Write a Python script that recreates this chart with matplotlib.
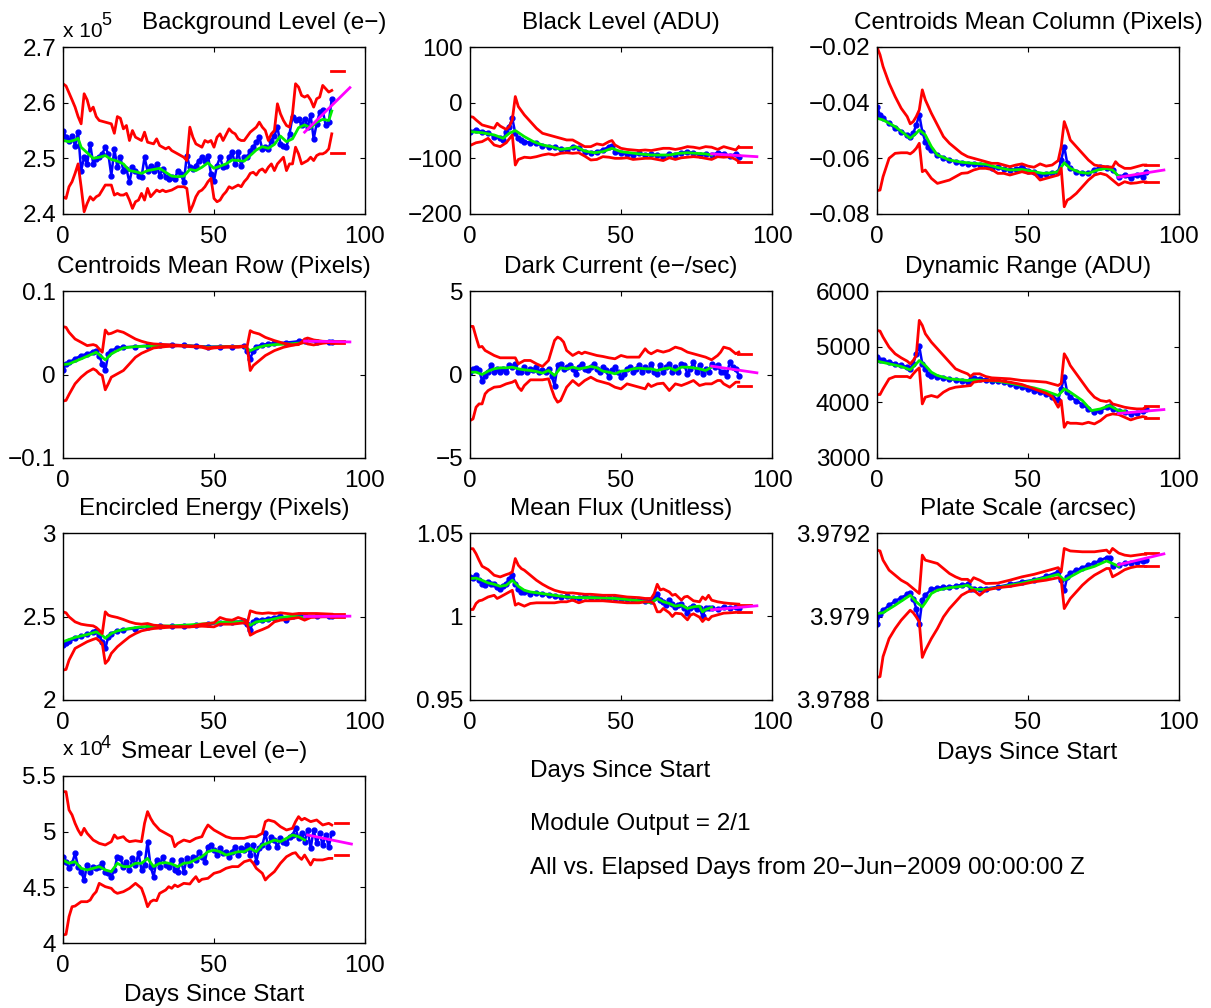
import matplotlib
matplotlib.use('Agg')
import matplotlib.pyplot as plt
from matplotlib.transforms import offset_copy

plt.rcParams['font.family'] = ['Liberation Sans', 'DejaVu Sans']

# ---------------------------------------------------------------- data
# Background Level (units of 1e5 e-)
bg_blue = [2.550,2.538,2.532,2.540,2.523,2.547,2.478,2.502,2.490,2.526,2.490,2.499,2.502,2.508,2.520,2.508,2.469,2.517,2.484,2.502,
           2.478,2.481,2.457,2.484,2.478,2.469,2.466,2.502,2.478,2.487,2.478,2.490,2.469,2.481,2.466,2.463,2.466,2.463,2.478,2.472,
           2.457,2.505,2.484,2.481,2.487,2.496,2.502,2.496,2.505,2.472,2.460,2.487,2.502,2.484,2.487,2.502,2.511,2.490,2.511,2.487,
           2.502,2.502,2.514,2.520,2.529,2.538,2.517,2.520,2.517,2.532,2.541,2.556,2.526,2.523,2.520,2.544,2.574,2.568,2.571,2.559,
           2.571,2.556,2.577,2.535,2.562,2.583,2.586,2.559,2.565,2.607]
bg_green = [(0,2.532),(2,2.530),(4,2.533),(5,2.536),(6,2.520),(8,2.510),(10,2.500),(12,2.502),(14,2.505),(16,2.498),(18,2.495),
            (20,2.490),(22,2.478),(24,2.476),(26,2.473),(28,2.478),(30,2.480),(32,2.482),(34,2.475),(36,2.468),(38,2.467),(40,2.468),
            (42,2.480),(44,2.478),(46,2.484),(48,2.492),(50,2.482),(52,2.486),(54,2.490),(56,2.497),(58,2.496),(60,2.495),(62,2.505),
            (64,2.515),(66,2.521),(68,2.518),(70,2.525),(72,2.540),(74,2.530),(76,2.535),(78,2.555),(80,2.560),(82,2.555),(84,2.565),
            (86,2.570),(88,2.568),(89,2.585)]
bg_upper = [(0,2.634),(1,2.630),(3,2.605),(4,2.592),(5,2.575),(6,2.562),(7,2.616),(8,2.605),(9,2.585),(10,2.592),(11,2.575),(12,2.568),
            (14,2.565),(16,2.562),(17,2.545),(18,2.575),(19,2.572),(20,2.553),(21,2.559),(22,2.532),(23,2.550),(24,2.538),(26,2.532),
            (27,2.547),(28,2.529),(30,2.526),(31,2.535),(32,2.523),(34,2.517),(35,2.520),(36,2.514),(38,2.508),(39,2.505),(40,2.502),
            (41,2.496),(42,2.556),(43,2.538),(44,2.526),(46,2.520),(47,2.532),(48,2.529),(49,2.532),(50,2.520),(51,2.538),(52,2.544),
            (53,2.532),(55,2.553),(56,2.547),(57,2.544),(58,2.535),(59,2.532),(60,2.532),(62,2.547),(64,2.556),(65,2.565),(66,2.556),
            (67,2.550),(68,2.532),(69,2.544),(70,2.550),(71,2.598),(72,2.580),(73,2.568),(74,2.559),(75,2.556),(76,2.580),(77,2.634),
            (78,2.628),(79,2.613),(80,2.610),(81,2.613),(82,2.605),(83,2.592),(84,2.607),(85,2.610),(86,2.631),(87,2.625),(88,2.619),(89,2.622)]
bg_lower = [(0,2.431),(1,2.428),(2,2.449),(3,2.458),(4,2.473),(5,2.490),(6,2.449),(7,2.404),(8,2.419),(9,2.431),(10,2.425),(11,2.431),
            (12,2.434),(13,2.443),(14,2.452),(16,2.452),(17,2.434),(18,2.437),(19,2.434),(20,2.434),(21,2.437),(22,2.425),(23,2.410),
            (24,2.422),(25,2.425),(26,2.437),(27,2.425),(28,2.446),(29,2.431),(30,2.437),(31,2.443),(32,2.440),(33,2.443),(34,2.440),
            (36,2.443),(38,2.449),(40,2.449),(41,2.446),(42,2.404),(43,2.416),(44,2.431),(45,2.440),(46,2.443),(47,2.449),(48,2.458),
            (49,2.464),(50,2.428),(51,2.422),(52,2.425),(53,2.434),(54,2.440),(55,2.449),(56,2.446),(58,2.452),(59,2.449),(60,2.458),
            (61,2.464),(62,2.473),(63,2.475),(64,2.470),(65,2.478),(66,2.481),(67,2.475),(68,2.484),(69,2.490),(70,2.478),(71,2.490),
            (72,2.496),(73,2.502),(74,2.478),(75,2.490),(76,2.490),(77,2.520),(78,2.508),(79,2.490),(80,2.493),(81,2.496),(82,2.502),
            (83,2.496),(84,2.505),(85,2.508),(86,2.508),(87,2.511),(88,2.517),(89,2.544)]
bg_band = [2.657, 2.510]
bg_pred = [2.547, 2.627]

# Black Level (ADU)
bl_blue = [(0,-52),(2,-49),(4,-52),(6,-54),(8,-61),(10,-64),(11,-67),(12,-52),(13,-43),(14,-28),(15,-55),(16,-64),(17,-67),(18,-70),
           (20,-72),(22,-73),(24,-77),(26,-79),(28,-80),(30,-83),(32,-85),(34,-79),(36,-82),(38,-88),(40,-91),(42,-88),(44,-85),
           (46,-79),(47,-77),(48,-88),(50,-91),(52,-92),(54,-94),(56,-91),(58,-94),(60,-93),(62,-94),(64,-97),(66,-92),(68,-94),
           (70,-90),(72,-88),(74,-91),(76,-94),(78,-92),(80,-94),(82,-90),(84,-92),(86,-96),(88,-92),(89,-97)]
bl_green = [(0,-52),(4,-54),(8,-58),(11,-64),(13,-55),(15,-50),(18,-61),(21,-70),(24,-76),(27,-79),(30,-84),(33,-82),(35,-79),
            (38,-87),(41,-90),(44,-88),(47,-82),(50,-88),(53,-90),(56,-92),(60,-94),(63,-94),(66,-94),(69,-91),(72,-90),(75,-91),
            (78,-92),(80,-94)]
bl_upper = [(0,-25),(1,-26),(2,-31),(4,-40),(6,-43),(8,-46),(9,-37),(10,-42),(12,-48),(13,-43),(14,-31),(15,11),(16,-7),(18,-22),
            (20,-34),(22,-46),(24,-55),(26,-58),(28,-61),(30,-64),(32,-67),(34,-67),(36,-73),(38,-79),(40,-79),(42,-74),(44,-76),
            (46,-70),(47,-68),(48,-76),(50,-82),(52,-84),(54,-85),(56,-86),(58,-85),(60,-86),(62,-84),(64,-82),(66,-82),(68,-84),
            (70,-82),(72,-79),(74,-80),(76,-82),(78,-79),(80,-80),(82,-84),(84,-79),(86,-82),(88,-85),(89,-79)]
bl_lower = [(0,-77),(2,-72),(4,-70),(6,-64),(8,-76),(10,-79),(12,-72),(14,-58),(15,-112),(16,-102),(18,-98),(20,-99),(22,-97),
            (24,-94),(26,-92),(28,-94),(30,-91),(32,-90),(34,-91),(36,-90),(38,-96),(40,-103),(42,-102),(44,-97),(46,-98),(48,-100),
            (50,-100),(52,-99),(54,-102),(56,-101),(58,-100),(60,-100),(62,-102),(64,-104),(66,-99),(68,-102),(70,-99),(72,-98),
            (74,-97),(76,-98),(78,-100),(80,-102),(82,-97),(84,-98),(86,-97),(88,-102),(89,-106)]
bl_band = [-79, -106]
bl_pred = [-92, -97]

# Centroids Mean Column (pixels)
cc_blue = [(0,-0.0414),(1,-0.0444),(2,-0.0456),(4,-0.0474),(6,-0.0492),(8,-0.0504),(10,-0.0516),(11,-0.0522),(12,-0.0510),
           (13,-0.0480),(14,-0.0444),(15,-0.0504),(16,-0.0540),(17,-0.0558),(18,-0.0570),(20,-0.0588),(22,-0.0600),(24,-0.0606),
           (26,-0.0612),(28,-0.0618),(30,-0.0620),(32,-0.0621),(34,-0.0624),(36,-0.0624),(38,-0.0636),(40,-0.0630),(42,-0.0640),
           (44,-0.0642),(46,-0.0640),(48,-0.0630),(50,-0.0644),(52,-0.0648),(54,-0.0660),(56,-0.0656),(58,-0.0654),(60,-0.0648),
           (61,-0.0606),(62,-0.0558),(63,-0.0618),(64,-0.0636),(66,-0.0648),(68,-0.0652),(70,-0.0654),(72,-0.0642),(74,-0.0630),
           (76,-0.0636),(78,-0.0642),(80,-0.0666),(82,-0.0660),(84,-0.0672),(86,-0.0660),(88,-0.0666),(89,-0.0648)]
cc_green = [(0,-0.0456),(2,-0.0462),(6,-0.0486),(11,-0.0528),(13,-0.0510),(14,-0.0498),(16,-0.0516),(18,-0.0558),(20,-0.0588),
            (24,-0.0606),(28,-0.0614),(32,-0.0618),(36,-0.0621),(40,-0.0633),(44,-0.0642),(48,-0.0640),(52,-0.0648),(55,-0.0654),
            (58,-0.0652),(60,-0.0648),(62,-0.0616),(64,-0.0636),(67,-0.0650),(70,-0.0654),(73,-0.0642),(76,-0.0636),(78,-0.0642),
            (80,-0.0664)]
cc_upper = [(0,-0.0200),(1,-0.0228),(2,-0.0270),(4,-0.0330),(6,-0.0378),(8,-0.0420),(10,-0.0450),(11,-0.0476),(12,-0.0468),
            (13,-0.0450),(14,-0.0426),(15,-0.0354),(16,-0.0390),(18,-0.0438),(20,-0.0480),(22,-0.0522),(24,-0.0546),(26,-0.0564),
            (28,-0.0582),(30,-0.0594),(32,-0.0600),(34,-0.0606),(36,-0.0612),(38,-0.0618),(40,-0.0618),(42,-0.0624),(44,-0.0630),
            (46,-0.0624),(48,-0.0620),(50,-0.0628),(52,-0.0632),(54,-0.0620),(56,-0.0628),(58,-0.0624),(60,-0.0608),(61,-0.0558),
            (62,-0.0468),(63,-0.0498),(64,-0.0534),(66,-0.0558),(68,-0.0582),(70,-0.0606),(72,-0.0624),(74,-0.0628),(76,-0.0630),
            (78,-0.0632),(79,-0.0612),(80,-0.0624),(82,-0.0636),(84,-0.0636),(86,-0.0630),(88,-0.0624),(89,-0.0624)]
cc_lower = [(0,-0.0716),(1,-0.0714),(2,-0.0666),(4,-0.0600),(6,-0.0582),(8,-0.0580),(10,-0.0580),(11,-0.0584),(12,-0.0576),
            (13,-0.0564),(14,-0.0546),(15,-0.0648),(16,-0.0642),(18,-0.0672),(20,-0.0690),(22,-0.0684),(24,-0.0678),(26,-0.0666),
            (28,-0.0654),(30,-0.0652),(32,-0.0642),(34,-0.0636),(36,-0.0636),(38,-0.0640),(40,-0.0654),(42,-0.0654),(44,-0.0660),
            (46,-0.0654),(48,-0.0648),(50,-0.0654),(52,-0.0654),(54,-0.0678),(56,-0.0672),(58,-0.0666),(60,-0.0660),(61,-0.0636),
            (62,-0.0774),(63,-0.0750),(64,-0.0744),(66,-0.0726),(68,-0.0702),(70,-0.0678),(72,-0.0660),(74,-0.0654),(76,-0.0660),
            (78,-0.0678),(80,-0.0696),(82,-0.0684),(84,-0.0690),(86,-0.0688),(88,-0.0684),(89,-0.0685)]
cc_band = [-0.0624, -0.0685]
cc_pred = [-0.0668, -0.0642]

# Centroids Mean Row (pixels)
cr_blue = [(0,0.0056),(1,0.0127),(2,0.0147),(4,0.0187),(6,0.0227),(8,0.0247),(10,0.0274),(11,0.0286),(12,0.0227),(13,0.0127),
           (14,0.0048),(15,0.0247),(16,0.0286),(18,0.0318),(20,0.0326),(24,0.0334),(28,0.0346),(32,0.0354),(36,0.0354),(40,0.0350),
           (44,0.0342),(48,0.0334),(52,0.0334),(56,0.0334),(60,0.0342),(61,0.0286),(62,0.0187),(63,0.0286),(64,0.0334),(66,0.0358),
           (68,0.0366),(70,0.0374),(74,0.0382),(78,0.0398),(80,0.0406),(84,0.0394),(88,0.0394),(89,0.0394)]
cr_green = [(0,0.0119),(2,0.0127),(6,0.0187),(11,0.0266),(13,0.0207),(14,0.0175),(16,0.0247),(18,0.0286),(20,0.0318),(24,0.0334),
            (30,0.0342),(36,0.0350),(42,0.0342),(48,0.0326),(54,0.0334),(60,0.0334),(62,0.0286),(64,0.0318),(67,0.0346),(70,0.0358),
            (75,0.0366),(80,0.0382)]
cr_upper = [(0,0.0573),(1,0.0565),(2,0.0505),(4,0.0425),(6,0.0386),(8,0.0346),(10,0.0358),(11,0.0346),(12,0.0306),(13,0.0266),
            (14,0.0533),(15,0.0485),(16,0.0493),(18,0.0525),(20,0.0505),(22,0.0465),(24,0.0425),(26,0.0398),(28,0.0378),(30,0.0366),
            (34,0.0358),(38,0.0350),(42,0.0342),(46,0.0334),(48,0.0318),(50,0.0326),(54,0.0334),(58,0.0334),(60,0.0342),(61,0.0342),
            (62,0.0525),(63,0.0505),(65,0.0485),(67,0.0445),(70,0.0406),(73,0.0374),(76,0.0354),(78,0.0358),(79,0.0386),(80,0.0425),
            (81,0.0437),(83,0.0414),(86,0.0398),(89,0.0394)]
cr_lower = [(0,-0.0318),(1,-0.0310),(2,-0.0239),(4,-0.0111),(6,-0.0032),(8,0.0028),(10,0.0068),(11,0.0048),(12,0.0008),(13,-0.0012),
            (14,-0.0183),(15,-0.0111),(16,-0.0032),(18,0.0008),(20,0.0048),(22,0.0127),(24,0.0207),(26,0.0254),(28,0.0286),(30,0.0318),
            (34,0.0334),(38,0.0342),(42,0.0334),(46,0.0326),(48,0.0306),(50,0.0318),(54,0.0326),(58,0.0326),(60,0.0334),(61,0.0326),
            (62,0.0048),(63,0.0107),(65,0.0167),(67,0.0227),(70,0.0286),(73,0.0326),(76,0.0350),(78,0.0366),(80,0.0386),(81,0.0366),
            (83,0.0354),(86,0.0374),(89,0.0386)]
cr_band = [0.0398, 0.0378]
cr_pred = [0.0400, 0.0390]

# Dark Current (e-/sec)
dc_blue = [0.14,0.34,0.40,0.24,-0.36,-0.06,0.14,0.54,0.14,0.34,0.14,0.34,0.14,0.54,0.44,0.64,0.14,0.14,0.44,0.14,
           0.34,0.24,0.44,0.14,0.24,0.14,0.34,-0.06,-0.66,0.54,0.64,0.34,0.44,0.54,0.34,0.04,0.44,0.64,0.34,0.24,
           0.44,0.64,0.34,0.14,0.44,0.24,-0.16,0.24,0.44,0.14,-0.16,0.04,0.34,0.44,0.14,0.34,0.54,0.14,0.44,0.24,
           0.64,0.14,0.04,0.54,0.14,0.44,0.64,0.14,0.44,0.14,0.64,0.54,0.04,0.34,0.74,0.14,0.54,0.04,0.34,0.14,
           0.64,0.44,0.54,0.14,0.14,-0.06,0.74,0.44,0.34,-0.06]
dc_green = [(0,0.14),(2,0.14),(4,0.0),(6,0.2),(8,0.34),(10,0.4),(12,0.4),(14,0.44),(16,0.34),(18,0.28),(20,0.24),(22,0.18),
            (24,0.08),(26,0.24),(28,-0.06),(30,0.4),(32,0.34),(34,0.44),(36,0.34),(38,0.4),(40,0.48),(42,0.4),(44,0.2),(46,0.14),
            (48,0.04),(50,0.2),(52,0.24),(54,0.34),(56,0.38),(58,0.34),(60,0.34),(62,0.24),(64,0.34),(66,0.4),(68,0.24),(70,0.44),
            (72,0.44),(74,0.4),(76,0.34),(78,0.24),(80,0.44)]
dc_upper = [(0,2.88),(1,2.88),(2,2.24),(3,1.64),(4,1.68),(5,1.44),(6,1.34),(8,1.14),(10,1.0),(12,1.0),(14,1.0),(15,1.0),(16,0.64),
            (18,0.84),(20,0.84),(22,0.64),(24,0.48),(26,0.84),(27,1.44),(28,2.04),(29,2.24),(30,2.14),(31,1.94),(32,1.44),(34,1.14),
            (36,1.34),(37,1.24),(38,1.34),(40,1.24),(42,1.14),(44,1.08),(46,1.0),(48,0.94),(50,1.14),(52,1.04),(54,1.04),(56,1.04),
            (58,1.54),(59,1.34),(60,1.24),(62,1.44),(64,1.34),(66,1.44),(68,1.64),(70,1.54),(72,1.34),(74,1.24),(76,1.14),(78,1.04),
            (80,0.88),(82,1.14),(83,1.34),(84,1.64),(86,1.54),(88,1.24),(89,1.34)]
dc_lower = [(0,-2.76),(1,-2.66),(2,-1.96),(3,-1.76),(4,-1.76),(5,-1.16),(6,-0.96),(8,-0.76),(10,-0.72),(12,-0.56),(14,-0.46),
            (15,-0.36),(16,-0.76),(17,-0.96),(18,-0.66),(20,-0.32),(22,-0.32),(24,-0.32),(26,-0.26),(27,-0.86),(28,-1.36),(29,-1.66),
            (30,-1.56),(31,-1.16),(32,-0.76),(34,-0.36),(36,-0.66),(38,-0.36),(40,-0.16),(42,-0.36),(44,-0.46),(46,-0.56),(48,-0.76),
            (50,-0.86),(52,-0.56),(54,-0.66),(56,-0.76),(58,-0.86),(59,-0.56),(60,-0.72),(62,-0.56),(64,-0.52),(66,-0.96),(68,-0.56),
            (70,-0.66),(72,-0.52),(74,-0.36),(76,-0.66),(78,-0.56),(80,-0.56),(82,-0.36),(83,-0.36),(84,-0.56),(86,-0.76),(88,-0.46),
            (89,-0.46)]
dc_band = [1.2, -0.66]
dc_pred = [0.5, 0.1]

# Dynamic Range (ADU)
dr_blue = [(0,4812),(1,4764),(2,4752),(4,4722),(6,4692),(8,4662),(10,4632),(11,4602),(12,4692),(13,4872),(14,5004),(15,4692),
           (16,4602),(17,4512),(18,4482),(20,4452),(22,4434),(24,4422),(26,4404),(28,4392),(30,4362),(31,4422),(32,4440),(34,4422),
           (36,4404),(38,4392),(40,4380),(42,4362),(44,4332),(46,4302),(48,4272),(50,4242),(52,4212),(54,4182),(56,4152),(58,4104),
           (60,4044),(61,4242),(62,4452),(63,4182),(64,4092),(66,4032),(68,3960),(70,3882),(72,3822),(74,3852),(76,3912),(77,3930),
           (78,3882),(80,3852),(82,3822),(84,3792),(86,3804),(88,3852),(89,3882)]
dr_green = [(0,4740),(4,4692),(8,4644),(11,4584),(13,4692),(14,4752),(16,4662),(18,4542),(20,4482),(24,4422),(28,4404),(30,4392),
            (32,4404),(36,4392),(40,4380),(44,4344),(48,4302),(52,4260),(56,4200),(60,4122),(62,4242),(64,4182),(68,4032),(71,3852),
            (74,3882),(77,3942),(80,3852),(82,3840)]
dr_upper = [(0,5292),(1,5280),(2,5172),(4,4992),(6,4872),(8,4800),(10,4740),(11,4692),(12,4752),(13,4842),(14,5472),(15,5382),
            (16,5232),(18,5082),(20,4962),(22,4842),(24,4722),(26,4602),(28,4554),(30,4512),(31,4464),(32,4512),(34,4512),(36,4464),
            (38,4440),(40,4434),(44,4422),(48,4392),(52,4380),(56,4362),(58,4332),(60,4302),(61,4340),(62,4872),(63,4782),(64,4662),
            (66,4512),(68,4362),(70,4212),(72,4092),(74,4032),(76,4014),(77,4032),(78,3972),(80,3942),(82,3912),(84,3894),(86,3882),
            (88,3882),(89,3912)]
dr_lower = [(0,4140),(1,4140),(2,4242),(4,4422),(6,4464),(8,4464),(10,4464),(11,4440),(12,4512),(13,4572),(14,4620),(15,3972),
            (16,4092),(18,4122),(20,4092),(22,4182),(24,4242),(26,4272),(28,4284),(30,4296),(31,4302),(32,4362),(34,4380),(36,4392),
            (40,4392),(44,4362),(48,4320),(52,4242),(56,4164),(58,4104),(60,3912),(61,4032),(62,3552),(63,3642),(64,3624),(66,3624),
            (68,3612),(70,3642),(72,3612),(74,3672),(76,3762),(78,3792),(80,3780),(82,3732),(84,3684),(86,3720),(88,3744),(89,3732)]
dr_band = [3942, 3714]
dr_pred = [3800, 3870]

# Encircled Energy (pixels)
ee_blue = [(0,2.329),(1,2.343),(2,2.353),(4,2.369),(6,2.382),(8,2.394),(10,2.408),(11,2.414),(12,2.388),(13,2.349),(14,2.309),
           (15,2.378),(16,2.398),(18,2.414),(20,2.422),(24,2.428),(28,2.438),(32,2.442),(36,2.442),(40,2.444),(44,2.448),(48,2.454),
           (52,2.462),(56,2.468),(60,2.472),(61,2.458),(62,2.422),(63,2.468),(64,2.478),(66,2.482),(68,2.488),(70,2.494),(72,2.502),
           (74,2.478),(76,2.502),(78,2.508),(80,2.502),(84,2.502),(88,2.502),(89,2.502)]
ee_green = [(0,2.349),(4,2.375),(8,2.392),(11,2.408),(13,2.388),(14,2.369),(16,2.398),(18,2.414),(22,2.428),(26,2.438),(30,2.442),
            (36,2.444),(42,2.450),(48,2.458),(54,2.468),(60,2.468),(62,2.448),(64,2.468),(68,2.478),(72,2.494),(76,2.502),(80,2.494)]
ee_upper = [(0,2.528),(1,2.522),(2,2.498),(4,2.468),(6,2.454),(8,2.448),(10,2.444),(11,2.434),(12,2.418),(13,2.398),(14,2.528),
            (15,2.508),(16,2.502),(18,2.494),(20,2.482),(22,2.468),(24,2.458),(26,2.454),(28,2.458),(30,2.448),(34,2.442),(38,2.438),
            (42,2.438),(46,2.454),(50,2.462),(52,2.494),(54,2.482),(56,2.478),(58,2.494),(60,2.482),(61,2.458),(62,2.534),(64,2.522),
            (66,2.518),(68,2.522),(70,2.518),(72,2.522),(74,2.518),(76,2.514),(78,2.518),(80,2.518),(84,2.518),(89,2.514)]
ee_lower = [(0,2.179),(1,2.183),(2,2.239),(4,2.309),(6,2.329),(8,2.349),(10,2.363),(11,2.369),(12,2.355),(13,2.339),(14,2.219),
            (15,2.239),(16,2.279),(18,2.319),(20,2.349),(22,2.378),(24,2.398),(26,2.414),(28,2.422),(30,2.428),(34,2.434),(38,2.438),
            (42,2.438),(46,2.442),(50,2.438),(52,2.454),(56,2.454),(58,2.458),(60,2.462),(61,2.454),(62,2.388),(64,2.408),(66,2.422),
            (68,2.438),(70,2.468),(72,2.478),(74,2.482),(76,2.488),(78,2.494),(80,2.478),(82,2.494),(86,2.498),(89,2.498)]
ee_band = [2.512, 2.500]
ee_pred = [2.500, 2.502]

# Mean Flux (unitless)
mf_blue = [(0,1.0237),(1,1.0233),(2,1.0247),(3,1.0217),(4,1.0197),(5,1.0187),(6,1.0207),(7,1.0197),(8,1.0193),(9,1.0177),
           (10,1.0167),(11,1.0181),(12,1.0197),(13,1.0227),(14,1.0247),(15,1.0197),(16,1.0167),(17,1.0147),(18,1.0147),(20,1.0137),
           (22,1.0141),(24,1.0133),(26,1.0127),(28,1.0121),(30,1.0117),(32,1.0121),(34,1.0113),(36,1.0108),(38,1.0121),(40,1.0113),
           (42,1.0117),(44,1.0113),(46,1.0109),(48,1.0113),(50,1.0106),(52,1.0102),(54,1.0098),(56,1.0098),(58,1.0094),(60,1.0094),
           (61,1.0108),(62,1.0137),(63,1.0098),(64,1.0088),(65,1.0068),(66,1.0098),(67,1.0074),(68,1.0058),(69,1.0068),(70,1.0074),
           (71,1.0048),(72,1.0022),(73,1.0048),(74,1.0062),(75,1.0042),(76,1.0048),(77,1.0002),(78,1.0048),(79,1.0048),(80,1.0048),
           (82,1.0042),(84,1.0058),(86,1.0048),(88,1.0054),(89,1.0048)]
mf_green = [(0,1.0227),(2,1.0230),(4,1.0217),(6,1.0201),(8,1.0193),(10,1.0181),(12,1.0187),(14,1.0217),(16,1.0181),(18,1.0157),
            (20,1.0147),(24,1.0137),(28,1.0127),(32,1.0117),(36,1.0113),(40,1.0113),(44,1.0111),(48,1.0108),(52,1.0102),(56,1.0094),
            (60,1.0082),(62,1.0108),(64,1.0088),(66,1.0078),(68,1.0062),(70,1.0068),(72,1.0048),(74,1.0058),(76,1.0062),(77,1.0028),
            (78,1.0042),(80,1.0054)]
mf_upper = [(0,1.0406),(1,1.0406),(2,1.0376),(3,1.0337),(4,1.0301),(6,1.0281),(8,1.0247),(10,1.0237),(12,1.0251),(13,1.0257),
            (14,1.0267),(15,1.0347),(16,1.0307),(17,1.0287),(18,1.0277),(20,1.0247),(22,1.0217),(24,1.0193),(26,1.0173),(28,1.0157),
            (30,1.0147),(32,1.0141),(34,1.0141),(36,1.0137),(38,1.0133),(40,1.0133),(44,1.0127),(48,1.0127),(52,1.0117),(56,1.0113),
            (58,1.0108),(60,1.0108),(61,1.0137),(62,1.0193),(63,1.0159),(64,1.0165),(66,1.0147),(67,1.0127),(68,1.0133),(70,1.0098),
            (71,1.0117),(72,1.0121),(74,1.0094),(76,1.0088),(77,1.0117),(78,1.0102),(79,1.0127),(80,1.0098),(82,1.0088),(84,1.0082),
            (86,1.0078),(89,1.0074)]
mf_lower = [(0,1.0042),(1,1.0042),(2,1.0078),(3,1.0094),(4,1.0098),(6,1.0117),(8,1.0127),(9,1.0108),(10,1.0117),(12,1.0137),
            (14,1.0157),(15,1.0068),(16,1.0078),(18,1.0062),(20,1.0078),(22,1.0082),(24,1.0082),(26,1.0082),(28,1.0082),(30,1.0088),
            (32,1.0088),(34,1.0098),(36,1.0082),(38,1.0094),(40,1.0094),(44,1.0094),(48,1.0088),(52,1.0082),(56,1.0082),(58,1.0088),
            (60,1.0088),(61,1.0074),(62,1.0028),(63,1.0028),(64,1.0048),(66,1.0022),(67,1.0000),(68,1.0020),(70,1.0016),(72,0.9980),
            (73,1.0008),(74,1.0016),(76,0.9996),(77,0.9970),(78,0.9990),(79,0.9980),(80,1.0000),(82,1.0010),(84,1.0020),(86,1.0022),
            (89,1.0026)]
mf_band = [1.0068, 1.0028]
mf_pred = [1.0040, 1.0064]

# Plate Scale (arcsec)
ps_blue = [(0,3.978983),(1,3.979007),(2,3.979015),(4,3.979027),(6,3.979037),(8,3.979045),(10,3.979053),(11,3.979057),(12,3.979043),
           (13,3.979019),(14,3.978983),(15,3.979039),(16,3.979051),(18,3.979065),(20,3.979069),(22,3.979070),(24,3.979071),
           (26,3.979072),(28,3.979076),(30,3.979077),(31,3.979067),(32,3.979065),(34,3.979066),(36,3.979067),(40,3.979071),
           (44,3.979077),(48,3.979083),(52,3.979088),(56,3.979096),(60,3.979107),(61,3.979087),(62,3.979063),(63,3.979095),
           (64,3.979104),(66,3.979111),(68,3.979117),(70,3.979123),(72,3.979128),(74,3.979135),(76,3.979141),(77,3.979139),
           (78,3.979120),(80,3.979123),(82,3.979127),(84,3.979128),(86,3.979131),(88,3.979133),(89,3.979135)]
ps_green = [(0,3.979007),(2,3.979009),(6,3.979027),(11,3.979051),(13,3.979035),(15,3.979023),(16,3.979033),(18,3.979055),
            (20,3.979063),(24,3.979069),(28,3.979072),(30,3.979075),(32,3.979065),(36,3.979065),(40,3.979069),(44,3.979075),
            (48,3.979080),(52,3.979087),(56,3.979093),(60,3.979101),(62,3.979087),(64,3.979095),(68,3.979111),(72,3.979120),
            (76,3.979133),(78,3.979127),(80,3.979120)]
ps_upper = [(0,3.979159),(1,3.979157),(2,3.979135),(4,3.979111),(6,3.979099),(8,3.979087),(10,3.979079),(12,3.979067),
            (14,3.979055),(15,3.979147),(16,3.979135),(18,3.979131),(20,3.979127),(22,3.979115),(24,3.979103),(26,3.979095),
            (28,3.979089),(30,3.979089),(31,3.979083),(32,3.979093),(34,3.979087),(36,3.979079),(40,3.979080),(44,3.979087),
            (48,3.979095),(52,3.979101),(56,3.979109),(60,3.979117),(61,3.979107),(62,3.979163),(64,3.979157),(68,3.979155),
            (72,3.979155),(74,3.979157),(76,3.979159),(77,3.979152),(78,3.979163),(80,3.979152),(82,3.979147),(84,3.979145),
            (86,3.979147),(88,3.979149),(89,3.979149)]
ps_lower = [(0,3.978854),(1,3.978856),(2,3.978904),(4,3.978947),(6,3.978971),(8,3.978991),(10,3.979007),(11,3.979015),
            (12,3.979009),(13,3.978999),(14,3.978987),(15,3.978902),(16,3.978919),(18,3.978947),(20,3.978971),(22,3.978999),
            (24,3.979019),(26,3.979035),(28,3.979051),(30,3.979059),(32,3.979063),(34,3.979051),(36,3.979063),(40,3.979069),
            (44,3.979072),(48,3.979077),(52,3.979083),(56,3.979087),(60,3.979093),(61,3.979087),(62,3.979019),(63,3.979031),
            (64,3.979043),(66,3.979059),(68,3.979075),(70,3.979088),(72,3.979099),(74,3.979107),(76,3.979115),(77,3.979115),
            (78,3.979095),(80,3.979103),(82,3.979112),(84,3.979117),(86,3.979120),(88,3.979120),(89,3.979120)]
ps_band = [3.979151, 3.979120]
ps_pred = [3.979124, 3.979150]

# Smear Level (units of 1e4 e-)
sm_blue = [4.775,4.730,4.671,4.716,4.805,4.686,4.641,4.566,4.701,4.641,4.686,4.671,4.686,4.716,4.641,4.626,4.596,4.656,4.775,4.760,
           4.686,4.730,4.656,4.760,4.701,4.805,4.656,4.701,4.910,4.686,4.596,4.745,4.686,4.775,4.701,4.686,4.745,4.656,4.641,4.745,
           4.641,4.760,4.701,4.775,4.745,4.820,4.775,4.730,4.865,4.880,4.835,4.790,4.850,4.805,4.820,4.775,4.820,4.865,4.790,4.850,
           4.835,4.880,4.790,4.880,4.730,4.850,4.880,4.985,4.865,4.955,4.925,4.865,4.940,4.910,4.895,4.955,4.970,5.030,4.940,4.985,
           4.910,5.015,4.850,5.015,4.895,4.985,4.880,4.970,4.865,4.985]
sm_green = [(0,4.745),(2,4.716),(4,4.730),(6,4.671),(8,4.656),(10,4.671),(12,4.686),(14,4.656),(16,4.641),(18,4.716),(20,4.686),
            (22,4.686),(24,4.716),(26,4.716),(28,4.760),(30,4.686),(32,4.716),(34,4.722),(36,4.710),(38,4.686),(40,4.716),(42,4.722),
            (44,4.751),(46,4.775),(48,4.820),(50,4.835),(52,4.820),(54,4.790),(56,4.805),(58,4.820),(60,4.820),(62,4.850),(64,4.820),
            (66,4.880),(68,4.901),(70,4.925),(72,4.910),(74,4.940),(76,4.970),(78,4.955),(80,4.925)]
sm_upper = [(0,5.359),(1,5.359),(2,5.195),(3,5.150),(4,5.075),(5,5.015),(6,4.970),(7,5.030),(8,4.985),(10,4.925),(12,4.895),
            (14,4.880),(16,4.910),(17,4.970),(18,4.940),(20,4.955),(21,4.925),(22,4.910),(24,4.919),(26,4.910),(27,5.075),(28,5.180),
            (29,5.120),(30,5.075),(32,5.015),(34,4.985),(36,4.955),(37,4.865),(38,4.895),(40,4.925),(42,4.910),(44,4.940),(46,4.955),
            (47,5.015),(48,5.060),(50,5.015),(52,4.985),(54,4.955),(56,4.940),(58,4.940),(60,4.940),(62,4.955),(64,4.955),(66,4.985),
            (67,5.090),(68,5.105),(70,5.090),(72,5.045),(74,5.015),(76,5.030),(77,5.090),(78,5.135),(79,5.105),(80,5.120),(82,5.090),
            (84,5.105),(86,5.060),(88,5.075),(89,5.060)]
sm_lower = [(0,4.072),(1,4.078),(2,4.237),(3,4.326),(4,4.332),(6,4.371),(8,4.371),(9,4.386),(10,4.431),(11,4.461),(12,4.536),
            (14,4.506),(16,4.491),(17,4.461),(18,4.446),(20,4.461),(22,4.491),(24,4.536),(26,4.491),(27,4.416),(28,4.326),(29,4.371),
            (30,4.386),(31,4.380),(32,4.446),(34,4.476),(35,4.506),(36,4.491),(37,4.521),(38,4.506),(40,4.536),(42,4.530),(43,4.566),
            (44,4.596),(45,4.551),(46,4.572),(48,4.581),(50,4.626),(52,4.641),(54,4.671),(56,4.686),(58,4.686),(60,4.730),(62,4.746),
            (63,4.716),(64,4.671),(66,4.626),(67,4.566),(68,4.596),(70,4.641),(72,4.716),(74,4.775),(76,4.805),(77,4.811),(78,4.775),
            (79,4.751),(80,4.790),(82,4.701),(83,4.751),(84,4.746),(86,4.746),(88,4.760),(89,4.760)]
sm_band = [5.075, 4.790]
sm_pred = [4.970, 4.889]

band_days = [88.7, 93.0]
pred_days = [80, 95]
xticks = [0, 50, 100]

# ---------------------------------------------------------------- figure
W, H = 1211, 1008
FS = 17.5
fig = plt.figure(figsize=(W / 100, H / 100), dpi=100)

col_left = [63, 470, 877]
row_top = [47, 291, 533, 776]
AW, AH = 302, 167


def make_ax(r, c):
    return fig.add_axes([col_left[c] / W, 1 - (row_top[r] + AH) / H, AW / W, AH / H])


def pairs(p):
    x, y = zip(*p)
    return list(x), list(y)


def lab(v):
    return v.replace('-', '\u2212')


def draw(ax, title, blue, green, upper, lower, band, pred, ylim, yticks, ylabels,
         band_x=band_days, pred_x=pred_days):
    if isinstance(blue[0], tuple):
        bx, by = pairs(blue)
    else:
        bx, by = list(range(len(blue))), blue
    ax.plot(bx, by, '.-', color='#0000ff', lw=1.8, ms=7)
    gx, gy = pairs(green)
    ax.plot(gx, gy, '-', color='#00ee00', lw=2.0)
    for p in (upper, lower):
        x, y = pairs(p)
        ax.plot(x, y, '-', color='#ff0000', lw=2.0)
    ax.plot(band_x, [band[0], band[0]], '-', color='#ff0000', lw=2.0)
    ax.plot(band_x, [band[1], band[1]], '-', color='#ff0000', lw=2.0)
    ax.plot(pred_x, pred, '-', color='#ff00ff', lw=2.0)
    ax.set_xlim(0, 100)
    ax.set_ylim(*ylim)
    ax.set_xticks(xticks)
    ax.set_xticklabels([str(t) for t in xticks])
    ax.set_yticks(yticks)
    ax.set_yticklabels([lab(s) for s in ylabels])
    ax.tick_params(direction='in', top=True, right=True, length=3.5, width=0.8,
                   labelsize=FS, pad=5)
    ax.tick_params(axis='x', pad=8.5)
    for s in ax.spines.values():
        s.set_linewidth(1.0)
    ax.set_title(title, fontsize=FS, pad=13)
    return ax


def multiplier(ax, exp, base_dy, sup_dy):
    ax.text(0, 1, 'x 10', transform=offset_copy(ax.transAxes, fig=fig, x=0, y=base_dy, units='dots'),
            ha='left', va='baseline', fontsize=15)
    ax.text(0, 1, exp, transform=offset_copy(ax.transAxes, fig=fig, x=38, y=sup_dy, units='dots'),
            ha='left', va='baseline', fontsize=13)


ax = make_ax(0, 0)
draw(ax, 'Background Level (e\u2212)', bg_blue, bg_green, bg_upper, bg_lower, bg_band, bg_pred,
     (2.4, 2.7), [2.4, 2.5, 2.6, 2.7], ['2.4', '2.5', '2.6', '2.7'])
ax.title.set_x(0.666)
multiplier(ax, '5', 10, 22)

ax = make_ax(0, 1)
draw(ax, 'Black Level (ADU)', bl_blue, bl_green, bl_upper, bl_lower, bl_band, bl_pred,
     (-200, 100), [-200, -100, 0, 100], ['-200', '-100', '0', '100'])

ax = make_ax(0, 2)
draw(ax, 'Centroids Mean Column (Pixels)', cc_blue, cc_green, cc_upper, cc_lower, cc_band, cc_pred,
     (-0.08, -0.02), [-0.08, -0.06, -0.04, -0.02], ['-0.08', '-0.06', '-0.04', '-0.02'])

ax = make_ax(1, 0)
draw(ax, 'Centroids Mean Row (Pixels)', cr_blue, cr_green, cr_upper, cr_lower, cr_band, cr_pred,
     (-0.1, 0.1), [-0.1, 0, 0.1], ['-0.1', '0', '0.1'])

ax = make_ax(1, 1)
draw(ax, 'Dark Current (e\u2212/sec)', dc_blue, dc_green, dc_upper, dc_lower, dc_band, dc_pred,
     (-5, 5), [-5, 0, 5], ['-5', '0', '5'])

ax = make_ax(1, 2)
draw(ax, 'Dynamic Range (ADU)', dr_blue, dr_green, dr_upper, dr_lower, dr_band, dr_pred,
     (3000, 6000), [3000, 4000, 5000, 6000], ['3000', '4000', '5000', '6000'])

ax = make_ax(2, 0)
draw(ax, 'Encircled Energy (Pixels)', ee_blue, ee_green, ee_upper, ee_lower, ee_band, ee_pred,
     (2, 3), [2, 2.5, 3], ['2', '2.5', '3'])

ax = make_ax(2, 1)
draw(ax, 'Mean Flux (Unitless)', mf_blue, mf_green, mf_upper, mf_lower, mf_band, mf_pred,
     (0.95, 1.05), [0.95, 1.0, 1.05], ['0.95', '1', '1.05'])

ax = make_ax(2, 2)
draw(ax, 'Plate Scale (arcsec)', ps_blue, ps_green, ps_upper, ps_lower, ps_band, ps_pred,
     (3.9788, 3.9792), [3.9788, 3.979, 3.9792], ['3.9788', '3.979', '3.9792'])

ax = make_ax(3, 0)
draw(ax, 'Smear Level (e\u2212)', sm_blue, sm_green, sm_upper, sm_lower, sm_band, sm_pred,
     (4, 5.5), [4, 4.5, 5, 5.5], ['4', '4.5', '5', '5.5'], band_x=[90, 94.4], pred_x=[81, 95.5])
multiplier(ax, '4', 21, 28)


def ftext(x, y, s, ha='left'):
    fig.text(x / W, 1 - y / H, s, ha=ha, va='baseline', fontsize=FS)


ftext(214, 1001, 'Days Since Start', ha='center')
ftext(1027, 759, 'Days Since Start', ha='center')
ftext(620, 777, 'Days Since Start', ha='center')
ftext(530, 830, 'Module Output = 2/1')
ftext(530, 874, 'All vs. Elapsed Days from 20\u2212Jun\u22122009 00:00:00 Z')

fig.savefig('out.png', dpi=100)
